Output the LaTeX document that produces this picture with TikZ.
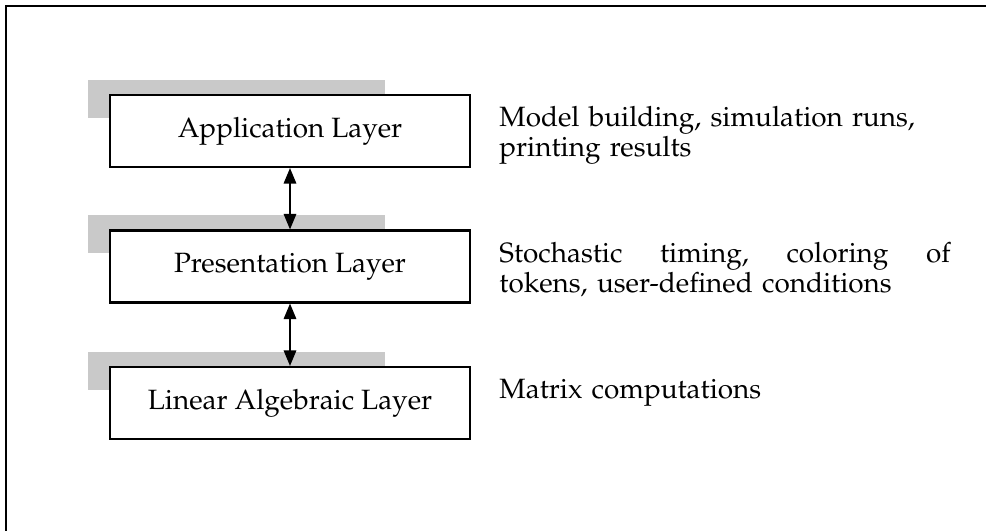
\documentclass[tikz,border=0pt]{standalone}
\usepackage[T1]{fontenc}
\renewcommand{\rmdefault}{ppl}
\usetikzlibrary{arrows.meta}
\definecolor{shadowgray}{gray}{0.79}
\tikzset{
  layerbox/.style={draw, line width=1pt, fill=white, inner sep=0pt,
    minimum width=6.12cm, minimum height=1.224cm},
  layershadow/.style={fill=shadowgray},
  updown/.style={line width=0.9pt, {Triangle[width=6pt,length=7.5pt]}-{Triangle[width=6pt,length=7.5pt]}},
  note/.style={anchor=west, align=left, inner sep=0pt, text width=7.67cm}
}
\begin{document}
\begin{tikzpicture}[x=0.017cm, y=-0.017cm, font=\fontsize{13.5}{14.5}\selectfont]
\useasboundingbox (0,0) rectangle (986,531);
% page frame
\draw[line width=1pt] (6,6) rectangle (1020,560);
% layers
\foreach \y/\n/\t in {131/app/Application Layer, 266.5/pres/Presentation Layer, 403/lin/Linear Algebraic Layer} {
  \fill[layershadow] (88,\y-51) rectangle (385,\y-13);
  \node[layerbox] (\n) at (290,\y) {\t};
}
\draw[updown] (app.south) -- (pres.north);
\draw[updown] (pres.south) -- (lin.north);
% descriptions
\node[note] (appnote) at (499,135) {Model building, simulation runs,\\printing results};
\node[note] (presnote) at (499,270) {\hbox to 7.67cm{Stochastic\hfill timing,\hfill coloring\hfill of}\\tokens, user-defined conditions};
\node[note] (linnote) at (499,393) {Matrix computations};
\end{tikzpicture}
\end{document}
